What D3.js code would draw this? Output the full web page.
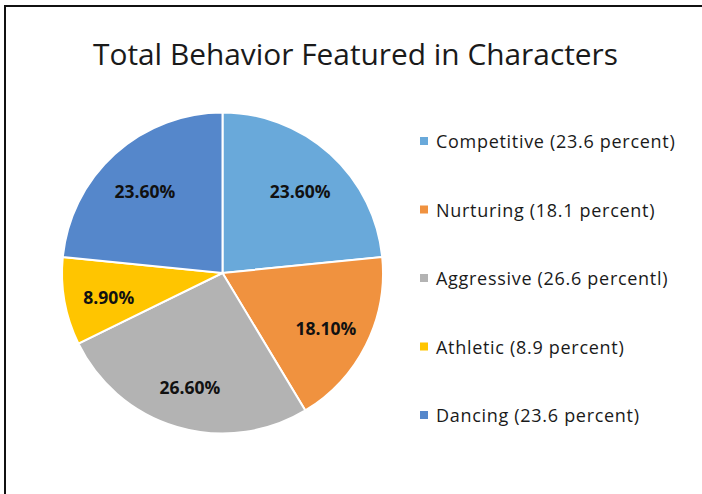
<!DOCTYPE html>
<html>
<head>
<meta charset="utf-8">
<script src="https://cdn.jsdelivr.net/npm/d3@7"></script>
<style>
  body { margin: 0; background: #fff; }
  svg { display: block; }
</style>
</head>
<body>
<div id="chart"></div>
<script>
// chart data
var categories = ["Competitive", "Nurturing", "Aggressive", "Athletic", "Dancing"];
var values = [23.6, 18.1, 26.6, 8.9, 23.6];
var sliceLabels = ["23.60%", "18.10%", "26.60%", "8.90%", "23.60%"];
var legendLabels = [
  "Competitive (23.6 percent)",
  "Nurturing (18.1 percent)",
  "Aggressive (26.6 percentl)",
  "Athletic (8.9 percent)",
  "Dancing (23.6 percent)"
];
var colors = ["#69A9DA", "#F0923F", "#B3B3B3", "#FFC500", "#5587CB"];

var width = 702;
var height = 494;

var svg = d3.select("#chart")
  .append("svg")
  .attr("width", width)
  .attr("height", height);

// frame (only top and left edges show)
svg.append("path")
  .attr("d", "M5,494 L5,6 L702,6")
  .attr("fill", "none")
  .attr("stroke", "#111")
  .attr("stroke-width", 2);

// title
svg.append("text")
  .attr("x", 93)
  .attr("y", 65)
  .attr("textLength", 525)
  .attr("lengthAdjust", "spacingAndGlyphs")
  .attr("font-family", "'Open Sans', sans-serif")
  .attr("font-size", 30)
  .attr("fill", "#1a1a1a")
  .text("Total Behavior Featured in Characters");

// pie
var cx = 222.5, cy = 273, radius = 160.5;

var color = d3.scaleOrdinal().domain(categories).range(colors);

var pie = d3.pie()
  .sort(null)
  .value(function(d) { return d.value; });

var tableData = categories.map(function(c, i) {
  return { name: c, value: values[i], label: sliceLabels[i] };
});

var arc = d3.arc().innerRadius(0).outerRadius(radius);
var labelArc = d3.arc().innerRadius(radius * 0.72).outerRadius(radius * 0.72);

var pieG = svg.append("g")
  .attr("transform", "translate(" + cx + "," + cy + ")");

var slices = pieG.selectAll("g.slice")
  .data(pie(tableData))
  .enter()
  .append("g")
  .attr("class", "slice");

slices.append("path")
  .attr("d", arc)
  .attr("fill", function(d) { return color(d.data.name); })
  .attr("stroke", "#fff")
  .attr("stroke-width", 2);

slices.append("text")
  .attr("transform", function(d) {
    var c = labelArc.centroid(d);
    return "translate(" + c[0] + "," + (c[1] + 4) + ")";
  })
  .attr("dy", "0.36em")
  .attr("text-anchor", "middle")
  .attr("font-family", "'Open Sans', sans-serif")
  .attr("font-weight", "bold")
  .attr("font-size", 17.5)
  .attr("fill", "#111")
  .text(function(d) { return d.data.label; });

// legend
var legendY = d3.scalePoint()
  .domain(categories)
  .range([141, 415]);

var legend = svg.selectAll("g.legend")
  .data(tableData)
  .enter()
  .append("g")
  .attr("class", "legend")
  .attr("transform", function(d) {
    return "translate(420," + legendY(d.name) + ")";
  });

legend.append("rect")
  .attr("x", 0)
  .attr("y", -4)
  .attr("width", 8)
  .attr("height", 8)
  .attr("fill", function(d) { return color(d.name); });

legend.append("text")
  .attr("x", 16)
  .attr("y", 7)
  .attr("font-family", "'Open Sans', sans-serif")
  .attr("font-size", 18)
  .attr("letter-spacing", 0.7)
  .attr("fill", "#1a1a1a")
  .text(function(d, i) { return legendLabels[i]; });
</script>
</body>
</html>
